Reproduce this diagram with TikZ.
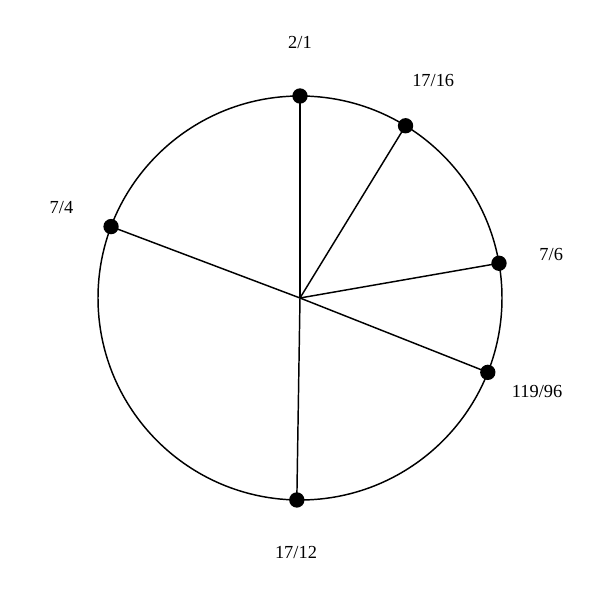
\documentclass[tikz,border=0pt]{standalone}
\usepackage{fontspec}
\setmainfont{Liberation Serif}
\usetikzlibrary{calc}
\begin{document}
\begin{tikzpicture}[x=0.75pt,y=0.75pt,
  spoke/.style={line width=1.1pt},
  dot/.style={circle,fill=black,inner sep=0pt,minimum size=11.5pt},
  lbl/.style={font=\fontsize{13.8}{16}\selectfont}]
\useasboundingbox (0,0) rectangle (600,600);
\coordinate (c) at (300,302);
\draw[spoke] (c) circle (202);
\foreach \n/\a/\t in {a/90/2\slash 1, b/58.5/17\slash 16, c2/9.9/7\slash 6, d/-21.6/119\slash 96, e/-90.9/17\slash 12, f/159.3/7\slash 4}{
  \node[dot] (p\n) at ($(c)+(\a:202)$) {};
  \draw[spoke] (c) -- (p\n.center);
  \node[lbl] (l\n) at ($(c)+(\a:255)$) {\t};
}
\end{tikzpicture}
\end{document}
